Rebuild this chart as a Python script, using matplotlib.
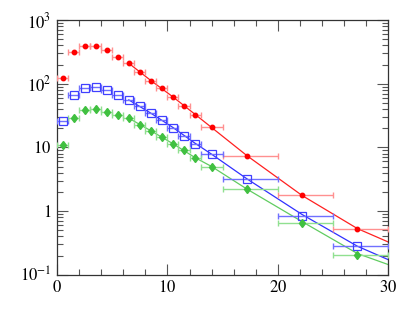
import numpy as np
import matplotlib
matplotlib.use("Agg")
import matplotlib.pyplot as plt
from matplotlib.ticker import LogLocator, FixedLocator, MultipleLocator, FuncFormatter, NullFormatter

plt.rcParams['font.family'] = ['Liberation Serif', 'DejaVu Serif']
plt.rcParams['mathtext.fontset'] = 'stix'

# bin edges and point positions
x_pts = [0.5, 1.5, 2.5, 3.5, 4.5, 5.5, 6.5, 7.5, 8.5, 9.5, 10.5, 11.5, 12.5, 14.0, 17.2, 22.2, 27.2]
x_lo = [0, 1, 2, 3, 4, 5, 6, 7, 8, 9, 10, 11, 12, 13, 15, 20, 25]
x_hi = [1, 2, 3, 4, 5, 6, 7, 8, 9, 10, 11, 12, 13, 15, 20, 25, 30]

red_y = [123, 310, 387, 385, 335, 266, 209, 155, 112, 85, 62, 44.8, 32.7, 20.5, 7.4, 1.8, 0.53]
blue_y = [26.3, 65.9, 85.7, 88, 80.7, 66.7, 55.6, 44.8, 34.4, 27, 20, 15.1, 11.1, 7.8, 3.2, 0.85, 0.278]
green_y = [10.7, 29, 38.3, 39.7, 36.1, 32, 28.7, 22.5, 18.2, 14.5, 11.4, 9.14, 6.92, 5.0, 2.21, 0.645, 0.206]

# fitted curves
fit_x = [6.5, 8.5, 10.5, 12.5, 14.0, 17.2, 22.2, 27.2, 30.0]
red_fit = [209, 112, 62, 33, 20.5, 7.4, 1.75, 0.53, 0.326]
blue_fit = [55.6, 34.4, 20.5, 11.6, 7.8, 3.2, 0.88, 0.28, 0.172]
green_fit = [28.7, 18.2, 11.4, 6.9, 5.0, 2.21, 0.68, 0.215, 0.144]

fig = plt.figure(figsize=(4.09, 3.27), dpi=100)
ax = fig.add_axes([0.1394, 0.16, 0.81, 0.7788])

xp = np.array(x_pts)
xerr = [xp - np.array(x_lo), np.array(x_hi) - xp]

series = [
    (red_y, red_fit, '#ff2020', '#ff9090', dict(marker='o', ms=3.2, mfc='#ff0000', mec='#ff0000')),
    (blue_y, blue_fit, '#3030ff', '#7070ff', dict(marker='s', ms=5.5, mfc='none', mec='#4040ff', mew=0.9)),
    (green_y, green_fit, '#60cc60', '#90e090', dict(marker='d', ms=4.5, mfc='#40c040', mec='#40c040')),
]

for ys, fit, lc, ec, mk in series:
    ax.plot(fit_x, fit, color=lc, lw=0.9, zorder=2)
    ax.errorbar(x_pts, ys, xerr=xerr, fmt='none', ecolor=ec, elinewidth=1.0,
                capsize=2.5, capthick=1.0, zorder=3)
    ax.plot(x_pts, ys, ls='none', zorder=4, **mk)

ax.set_xlim(0, 30)
ax.set_yscale('log')
ax.set_ylim(0.1, 1000)

ax.xaxis.set_major_locator(MultipleLocator(10))
ax.xaxis.set_minor_locator(MultipleLocator(2))
ax.yaxis.set_major_locator(LogLocator(base=10))
ax.yaxis.set_minor_locator(LogLocator(base=10, subs=np.arange(2, 10)))
ax.yaxis.set_minor_formatter(NullFormatter())

def ylab(v, pos):
    e = int(round(np.log10(v)))
    if e == 0:
        return '$1$'
    if e == 1:
        return '$10$'
    return '$10^{%d}$' % e

ax.yaxis.set_major_formatter(FuncFormatter(ylab))
ax.xaxis.set_major_formatter(FuncFormatter(lambda v, p: '$%d$' % v))

ax.tick_params(which='both', direction='in', top=True, right=True, color='#555555',
               labelsize=12, width=0.8)
ax.tick_params(which='major', length=8, pad=4)
ax.tick_params(which='minor', length=4)
for s in ax.spines.values():
    s.set_color('#333333')
    s.set_linewidth(0.9)

fig.savefig('out.png', dpi=100)
